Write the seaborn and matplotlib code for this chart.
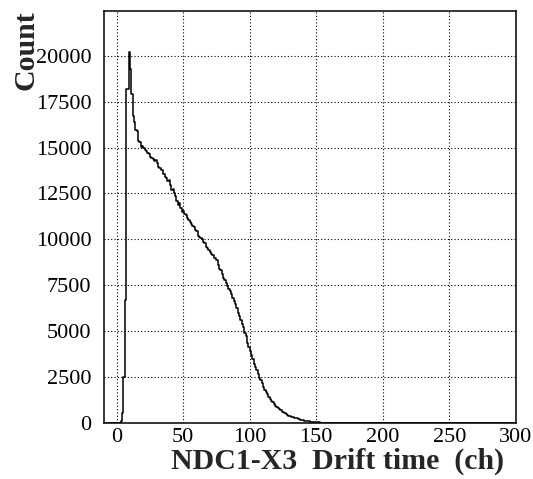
import numpy as np
import pandas as pd
import matplotlib
matplotlib.use("Agg")
import matplotlib.pyplot as plt
from matplotlib.ticker import MultipleLocator
import seaborn as sns

# Drift time histogram: counts per 1-channel bin starting at channel 0
counts = [
    0, 0, 0, 60, 500, 2500, 6700, 18200, 18200, 20200,          # 0-9
    19300, 17900, 16700, 16400, 15970, 15900, 15350, 15300, 15050, 15100,  # 10-19
    14950, 14870, 14800, 14700, 14650, 14500, 14420, 14380, 14250, 14300,  # 20-29
    14150, 13960, 13900, 13750, 13800, 13550, 13420, 13350, 13200, 13250,  # 30-39
    12950, 12700, 12750, 12500, 12350, 12100, 11870, 11950, 11700, 11500,  # 40-49
    11550, 11350, 11300, 11150, 11050, 10950, 10850, 10700, 10650, 10500,  # 50-59
    10450, 10200, 10100, 10050, 10000, 9850, 9800, 9600, 9500, 9400,      # 60-69
    9300, 9200, 9150, 9000, 8950, 8850, 8600, 8400, 8300, 8100,           # 70-79
    7900, 7750, 7600, 7450, 7300, 7150, 7000, 6800, 6650, 6450,           # 80-89
    6250, 6000, 5800, 5600, 5400, 5200, 4900, 4700, 4350, 4100,           # 90-99
    3900, 3700, 3450, 3200, 3050, 2850, 2650, 2450, 2300, 2150,           # 100-109
    1950, 1800, 1650, 1550, 1400, 1300, 1200, 1100, 1000, 920,            # 110-119
    850, 790, 720, 660, 600, 550, 500, 460, 420, 380,                     # 120-129
    350, 320, 290, 265, 245, 225, 200, 180, 160, 140,                     # 130-139
    120, 105, 90, 75, 62, 50, 40, 32, 25, 18,                             # 140-149
    12, 8, 5,                                                             # 150-152
]
channels = list(range(len(counts)))
x_label = "NDC1-X3  Drift time  (ch)"
y_label = "Count"
x_ticks = [0, 50, 100, 150, 200, 250, 300]
y_ticks = [0, 2500, 5000, 7500, 10000, 12500, 15000, 17500, 20000]

df = pd.DataFrame({"channel": np.array(channels, dtype=float) + 0.5,
                   "count": np.array(counts, dtype=float)})

sns.set_theme(style="white")
plt.rcParams["font.family"] = ["Liberation Serif", "DejaVu Serif"]
plt.rcParams["mathtext.fontset"] = "stix"

fig = plt.figure(figsize=(5.33, 4.79), dpi=100)
ax = fig.add_axes([104 / 533, 1 - 422.5 / 479, (515.7 - 104) / 533, (422.5 - 11) / 479])

sns.histplot(data=df, x="channel", weights="count", binwidth=1, binrange=(-10, 300),
             element="step", fill=False, color="black", linewidth=1.1, ax=ax)

ax.set_xlim(-9.5, 300)
ax.set_ylim(0, 22450)
ax.set_xticks(x_ticks)
ax.set_yticks(y_ticks)
ax.xaxis.set_minor_locator(MultipleLocator(25))
ax.yaxis.set_minor_locator(MultipleLocator(500))
ax.tick_params(which="both", direction="in", colors="black", labelsize=16,
               top=False, right=False)
ax.tick_params(which="major", length=8, width=1)
ax.tick_params(which="minor", length=3.6, width=1)
ax.tick_params(axis="x", pad=4)
ax.tick_params(axis="y", pad=9)

ax.grid(True, which="major", linestyle=(0, (1, 2)), color="black", linewidth=0.8)
ax.set_axisbelow(False)
for s in ax.spines.values():
    s.set_color("black")
    s.set_linewidth(1.1)

ax.set_xlabel("")
ax.set_ylabel("")
fig.text(504 / 533, 1 - 461 / 479, x_label, ha="right", va="center",
         fontsize=21.5, fontweight="bold")
fig.text(26 / 533, 1 - 10 / 479, y_label, ha="center", va="top", rotation=90,
         fontsize=21.5, fontweight="bold")

fig.savefig("out.png", dpi=100, facecolor="white")
